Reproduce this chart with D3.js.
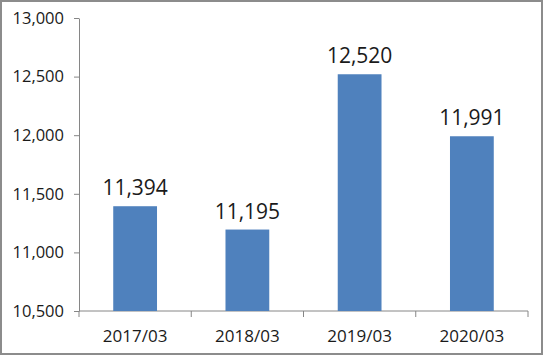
<!DOCTYPE html>
<html><head><meta charset="utf-8">
<script src="https://cdn.jsdelivr.net/npm/d3@7"></script>
<style>body{margin:0;background:#fff}svg{display:block}</style>
</head><body>
<script>
const categories = ["2017/03","2018/03","2019/03","2020/03"];
const values = [11394, 11195, 12520, 11991];
const yTicks = [10500, 11000, 11500, 12000, 12500, 13000];

(function(){
const W = 543, H = 355;
const svg = d3.select("body").append("svg").attr("width", W).attr("height", H);
svg.append("rect").attr("x",1).attr("y",1).attr("width",W-2).attr("height",H-2)
  .attr("fill","#fff").attr("stroke","#8c8c8c").attr("stroke-width",2);

const mL = 79, mR = 528, mT = 18, mB = 311;
const x = d3.scaleBand().domain(categories).range([mL, mR]).paddingInner(0.61).paddingOuter(0.305);
const y = d3.scaleLinear().domain([10500, 13000]).range([mB, mT]);
const font = "'Open Sans', sans-serif";

const yAxis = svg.append("g").attr("transform", `translate(${mL},0)`)
  .call(d3.axisLeft(y).tickValues(yTicks).tickFormat(d3.format(",")).tickSize(5).tickSizeOuter(0).tickPadding(10));
yAxis.select(".domain").attr("stroke","#868686");
yAxis.selectAll(".tick line").attr("stroke","#868686");
yAxis.selectAll("text").attr("font-family", font).attr("font-size", 16.5).attr("fill","#1a1a1a");

const xb = d3.scaleLinear().domain([0,4]).range([mL,mR]);
const xAxis = svg.append("g").attr("transform", `translate(0,${mB})`);
xAxis.append("line").attr("x1",mL).attr("x2",mR).attr("stroke","#868686");
xAxis.selectAll("line.t").data(d3.range(5)).join("line").attr("class","t")
  .attr("x1",d=>xb(d)).attr("x2",d=>xb(d)).attr("y1",0).attr("y2",6).attr("stroke","#868686");
xAxis.selectAll("text").data(categories).join("text")
  .attr("x", d => x(d) + x.bandwidth()/2).attr("y", 31).attr("text-anchor","middle")
  .attr("font-family", font).attr("font-size", 17).attr("fill","#1a1a1a").text(d=>d);

svg.selectAll("rect.bar").data(values).join("rect").attr("class","bar")
  .attr("x",(d,i)=>x(categories[i])).attr("width",x.bandwidth())
  .attr("y",d=>y(d)).attr("height",d=>mB-y(d)).attr("fill","#4f81bd");

svg.selectAll("text.lbl").data(values).join("text").attr("class","lbl")
  .attr("x",(d,i)=>x(categories[i])+x.bandwidth()/2).attr("y",d=>y(d)-11)
  .attr("text-anchor","middle").attr("font-family",font).attr("font-size",21).attr("fill","#1a1a1a")
  .text(d=>d3.format(",")(d));
})();
</script>
</body></html>
